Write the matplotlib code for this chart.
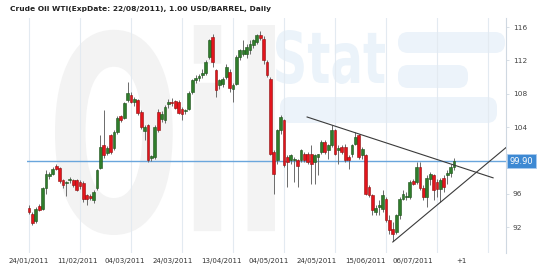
import matplotlib
matplotlib.use("Agg")
import matplotlib.pyplot as plt
import matplotlib.transforms as mtransforms
from matplotlib.font_manager import FontProperties
from matplotlib.patches import FancyBboxPatch, PathPatch
from matplotlib.textpath import TextPath
import numpy as np

# daily candles, WTI crude, 24/01/2011 onwards
opens = [94.3, 93.6, 92.7, 94.5, 94.2, 96.7, 98.1, 98.4, 99.3, 99.1,
         97.6, 97.3, 97.6, 97.6, 97.6, 97.4, 97.3, 95.8, 95.7, 95.2,
         96.7, 99.1, 101.8, 100.9, 103.0, 101.5, 103.4, 105.3, 105.1, 107.2,
         107.8, 107.0, 107.2, 105.8, 103.5, 104.2, 100.3, 100.4, 105.8, 104.9,
         104.8, 106.8, 107.0, 107.1, 107.0, 106.2, 105.9, 106.2, 108.2, 109.6,
         109.9, 110.2, 110.5, 112.4, 114.8, 110.8, 109.0, 109.2, 110.0, 110.6,
         108.6, 109.2, 112.4, 112.8, 112.8, 113.2, 113.8, 114.2, 115.0, 114.6,
         111.8, 109.8, 101.0, 100.0, 103.6, 104.8, 100.4, 100.0, 100.0, 100.0,
         100.0, 100.8, 100.8, 100.8, 99.8, 100.4, 101.0, 102.2, 101.2, 101.8,
         103.6, 101.3, 101.6, 101.6, 100.4, 100.8, 102.0, 103.0, 100.6, 100.6,
         96.8, 95.8, 93.8, 94.4, 94.2, 95.4, 92.8, 91.8, 91.4, 93.4,
         95.4, 95.6, 95.6, 97.5, 97.4, 99.2, 96.7, 95.6, 97.8, 98.2,
         97.4, 96.6, 97.9, 98.2, 98.5, 99.2]
highs = [94.6, 93.8, 94.4, 94.7, 96.8, 98.8, 98.6, 99.2, 99.6, 99.2,
         97.8, 97.5, 98.0, 97.8, 97.7, 97.6, 97.5, 96.0, 95.9, 96.4,
         99.0, 103.0, 106.0, 101.7, 103.2, 103.6, 105.3, 105.5, 107.0, 109.4,
         108.2, 107.6, 107.4, 106.0, 104.2, 104.4, 100.6, 104.2, 106.2, 105.9,
         106.6, 107.4, 107.5, 107.3, 107.2, 106.4, 106.2, 108.3, 109.8, 110.2,
         110.4, 110.9, 112.0, 114.6, 115.2, 111.0, 109.8, 110.0, 111.6, 110.9,
         109.3, 112.6, 113.4, 114.4, 113.9, 114.4, 114.6, 115.2, 115.5, 114.9,
         112.0, 110.0, 101.3, 103.8, 105.5, 105.0, 100.6, 100.8, 100.4, 100.2,
         101.4, 101.0, 101.0, 101.8, 100.8, 100.8, 102.4, 102.4, 102.0, 104.2,
         103.8, 101.8, 101.8, 101.9, 100.6, 102.0, 103.4, 103.2, 101.6, 100.8,
         97.0, 96.0, 94.6, 95.2, 96.4, 95.6, 93.4, 92.6, 93.6, 95.6,
         96.4, 96.2, 97.6, 97.8, 99.8, 99.8, 97.0, 98.2, 98.6, 98.4,
         97.8, 97.9, 98.2, 98.8, 99.6, 100.3]
lows = [93.6, 92.3, 92.5, 93.9, 94.0, 96.0, 97.8, 98.2, 98.8, 97.3,
        96.7, 95.7, 97.3, 96.8, 96.3, 96.6, 95.0, 94.6, 95.2, 94.9,
        96.5, 98.9, 100.3, 100.7, 100.8, 101.3, 103.2, 104.6, 104.9, 107.0,
        106.9, 106.5, 105.5, 103.8, 102.4, 99.8, 99.9, 100.2, 103.4, 104.6,
        104.5, 106.3, 106.5, 106.2, 105.6, 104.8, 105.6, 106.0, 108.0, 109.3,
        109.5, 109.9, 110.3, 112.2, 111.2, 107.6, 108.6, 108.8, 109.8, 108.2,
        107.0, 109.0, 112.0, 112.5, 112.3, 112.8, 113.5, 114.0, 114.5, 111.6,
        110.0, 100.6, 96.0, 99.6, 103.2, 99.2, 96.8, 99.6, 97.4, 96.8,
        99.8, 99.8, 99.6, 97.2, 97.2, 98.2, 100.8, 100.8, 100.2, 101.6,
        100.6, 99.6, 100.8, 99.8, 99.0, 100.4, 101.8, 100.2, 100.2, 95.8,
        95.6, 93.4, 93.4, 93.4, 93.8, 92.6, 91.2, 90.3, 91.2, 93.0,
        95.2, 95.2, 95.4, 97.0, 97.2, 96.4, 95.2, 94.4, 97.0, 95.2,
        95.6, 95.0, 96.2, 97.2, 98.0, 98.8]
closes = [93.8, 92.5, 94.2, 94.1, 96.7, 98.3, 98.3, 99.0, 98.9, 97.5,
          97.0, 97.4, 97.8, 97.0, 96.5, 96.9, 95.4, 95.4, 95.5, 96.2,
          98.8, 101.6, 100.6, 101.5, 101.0, 103.4, 105.1, 104.8, 106.9, 108.1,
          107.0, 107.4, 105.7, 104.0, 104.0, 100.1, 100.5, 104.0, 103.6, 105.6,
          106.4, 107.0, 106.9, 106.3, 105.7, 105.6, 106.1, 108.1, 109.6, 109.9,
          110.1, 110.5, 111.8, 114.4, 111.8, 108.4, 109.6, 109.8, 111.2, 108.7,
          109.0, 112.4, 113.2, 113.2, 113.6, 114.0, 114.4, 115.0, 114.7, 112.0,
          110.2, 100.8, 98.4, 103.6, 105.2, 99.4, 99.8, 100.6, 100.2, 99.3,
          101.2, 100.0, 99.8, 99.6, 100.6, 100.8, 102.2, 101.0, 101.8, 103.6,
          100.8, 101.5, 101.0, 100.0, 100.0, 101.8, 102.8, 100.4, 101.4, 96.0,
          95.8, 94.0, 94.3, 94.6, 95.8, 92.8, 91.6, 91.2, 93.4, 95.4,
          96.0, 95.7, 97.4, 97.2, 99.2, 96.7, 95.6, 97.9, 98.4, 96.4,
          96.6, 97.6, 96.8, 98.5, 99.2, 99.9]

date_labels = ["24/01/2011", "11/02/2011", "04/03/2011", "24/03/2011", "13/04/2011",
               "04/05/2011", "24/05/2011", "15/06/2011", "06/07/2011", "+1"]
price_ticks = [92, 96, 104, 108, 112, 116]
last_price = 99.90

# hand-drawn triangle (bar index, price)
upper_line_x = [81.8, 136.5]
upper_line_y = [105.2, 97.9]
lower_line_x = [107, 140.5]
lower_line_y = [90.2, 101.6]

GREEN = "#2f7d2b"
RED = "#e3141c"

fig = plt.figure(figsize=(5.5, 2.75), dpi=100)

# faint "OilStat" watermark, drawn in pixel coords
bg = fig.add_axes([0, 0, 1, 1], zorder=0)
bg.set_xlim(0, 550)
bg.set_ylim(0, 275)
bg.axis("off")


def logo_text(s, x0, y0, x1, y1, color):
    tp = TextPath((0, 0), s, size=1, prop=FontProperties(family="DejaVu Sans", weight="bold"))
    bb = tp.get_extents()
    tr = (mtransforms.Affine2D().translate(-bb.x0, -bb.y0)
          .scale((x1 - x0) / bb.width, (y1 - y0) / bb.height)
          .translate(x0, 275 - y1))
    bg.add_patch(PathPatch(tr.transform_path(tp), facecolor=color, lw=0))


logo_text("Oil", 55, 25, 275, 235, "#f3f3f3")
logo_text("Stat", 276, 30, 385, 84, "#ebf3fa")
for (x0, y0, x1, y1) in [(398, 32, 505, 53), (398, 65, 468, 88), (280, 97, 497, 123)]:
    bg.add_patch(FancyBboxPatch((x0, 275 - y1), x1 - x0, y1 - y0,
                                boxstyle="round,pad=0,rounding_size=10",
                                facecolor="#ecf3fa", lw=0))

ax = fig.add_axes([27 / 550, 22 / 275, 479 / 550, 235 / 275], zorder=1)
ax.set_facecolor("none")

idx = np.arange(len(closes))
o = np.array(opens)
c = np.array(closes)
up = c >= o
body_low = np.minimum(o, c)
body_h = np.maximum(np.abs(c - o), 0.12)
colors = np.where(up, GREEN, RED)
edges = np.where(up, "#1d4f1a", "#8c0f0f")

for x in np.arange(0, 140, 15):
    ax.axvline(x, color="#e3eaf1", lw=0.8, zorder=0)

ax.axhline(last_price, color="#6aa6dc", lw=1.0, zorder=1)

ax.vlines(idx, lows, highs, color="#6b6b6b", lw=0.7, zorder=2)
ax.bar(idx, body_h, bottom=body_low, width=0.78, color=colors,
       edgecolor=edges, linewidth=0.4, zorder=3)

ax.plot(upper_line_x, upper_line_y, color="#3a3a3a", lw=0.8, zorder=4)
ax.plot(lower_line_x, lower_line_y, color="#3a3a3a", lw=0.8, zorder=4)

ax.set_xlim(-0.59, 140.3)
ax.set_ylim(88.88, 117.08)

ax.set_xticks(np.arange(len(date_labels)) * 48 / 3.4)
ax.set_xticklabels(date_labels, fontsize=5, color="#333333")
ax.tick_params(axis="x", length=0, pad=3.5)

ax.yaxis.tick_right()
ax.set_yticks(price_ticks)
ax.set_yticklabels([str(t) for t in price_ticks], fontsize=5.3, color="#444444")
ax.tick_params(axis="y", length=2, width=0.5, color="#c8d2dc", pad=3)

for side in ["top", "left", "bottom"]:
    ax.spines[side].set_visible(False)
ax.spines["right"].set_color("#cfd8e1")
ax.spines["right"].set_linewidth(0.8)

tr = mtransforms.blended_transform_factory(ax.transAxes, ax.transData)
ax.text(1.008, last_price, f"{last_price:.2f}", transform=tr, fontsize=6,
        color="white", va="center", ha="left", zorder=5,
        bbox=dict(boxstyle="square,pad=0.3", facecolor="#3d89d3", edgecolor="#a9cbee", lw=0.6))

fig.text(10 / 550, 1 - 9 / 275, "Crude Oil WTI(ExpDate: 22/08/2011), 1.00 USD/BARREL, Daily",
         fontsize=5.4, fontweight="bold", color="#222222", va="center", ha="left")

fig.savefig("out.png", dpi=100)
